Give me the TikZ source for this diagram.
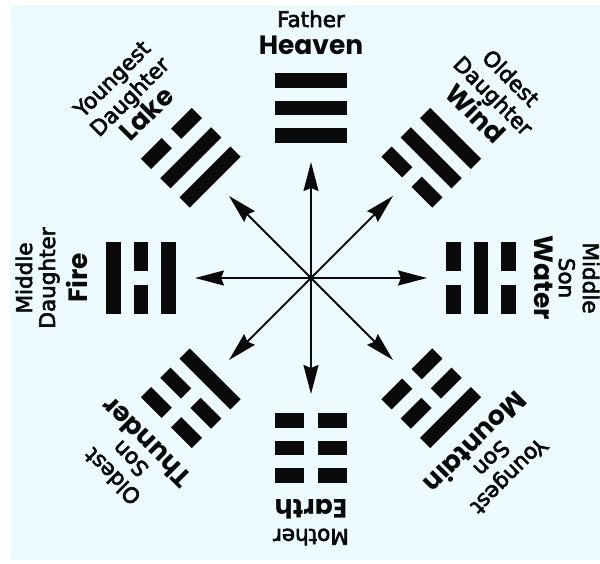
\documentclass[tikz,border=0pt]{standalone}
\usepackage{fontspec}
\setmainfont{DejaVu Sans}
\newfontfamily\regfont{DejaVu Sans}[FakeBold=3]
\newfontfamily\boldfont{Poppins}
\usetikzlibrary{arrows.meta}
\definecolor{bgcyan}{HTML}{EEFBFE}
\definecolor{ink}{HTML}{0A0A0A}
\newcommand\trline[2]{%
  \ifnum#2=1
    \fill[bar] (-36,#1-7.25) rectangle (36,#1+7.25);
  \else
    \fill[bar] (-36,#1-7.25) rectangle (-6.7,#1+7.25);
    \fill[bar] (6.7,#1-7.25) rectangle (36,#1+7.25);
  \fi}
\newcommand\trigram[4]{%
  \begin{scope}[shift={(#1:170)},rotate=#1-90]
    \trline{-27.3}{#2}\trline{0}{#3}\trline{27.3}{#4}
  \end{scope}}
\begin{document}
\begin{tikzpicture}[x=1pt,y=1pt,
  bar/.style={fill=ink},
  arr/.style={draw=ink,line width=1.8pt,-{Stealth[length=29pt,width=15pt,inset=3pt]}},
  bigword/.style={text=ink,font=\boldfont\bfseries\fontsize{26.5}{26.5}\selectfont,inner sep=0pt,anchor=base},
  smallword/.style={text=ink,font=\regfont\fontsize{21.5}{21.5}\selectfont,inner sep=0pt,anchor=base}]
\fill[white] (-311,-285) rectangle (289,278);
\fill[bgcyan] (-301,-282) rectangle (289,273);
\useasboundingbox (-311,-285) rectangle (289,278);
% trigrams: angle, inner, middle, outer line (1 = solid, 0 = broken)
\trigram{90}{1}{1}{1}
\trigram{135}{1}{1}{0}
\trigram{180}{1}{0}{1}
\trigram{225}{1}{0}{0}
\trigram{270}{0}{0}{0}
\trigram{315}{0}{0}{1}
\trigram{0}{0}{1}{0}
\trigram{45}{0}{1}{1}
% arrows
\coordinate (c) at (0,0);
\foreach \a in {0,45,...,315}{
  \coordinate (t\a) at (\a:116);
  \draw[arr] (c) -- (t\a);
}
% two-line labels
\node[bigword,rotate=0] (bigH) at (90:223) {Heaven};
\node[smallword,rotate=0] (midH) at (90:251) {Father};
\node[bigword,rotate=180] (bigE) at (270:221) {Earth};
\node[smallword,rotate=180] (midE) at (270:251) {Mother};
% three-line labels
\foreach \a/\b/\m/\f/\rm/\rf in {135/Lake/Daughter/Youngest/249/274,180/Fire/Daughter/Middle/256/279,
  225/Thunder/Son/Oldest/248/273,315/Mountain/Son/Youngest/248/273,0/Water/Son/Middle/248/272,45/Wind/Daughter/Oldest/250/275}{
  \node[bigword,rotate=\a-90] (big\a) at (\a:223) {\b};
  \node[smallword,rotate=\a-90] (mid\a) at (\a:\rm) {\m};
  \node[smallword,rotate=\a-90] (far\a) at (\a:\rf) {\f};
}
\end{tikzpicture}
\end{document}
